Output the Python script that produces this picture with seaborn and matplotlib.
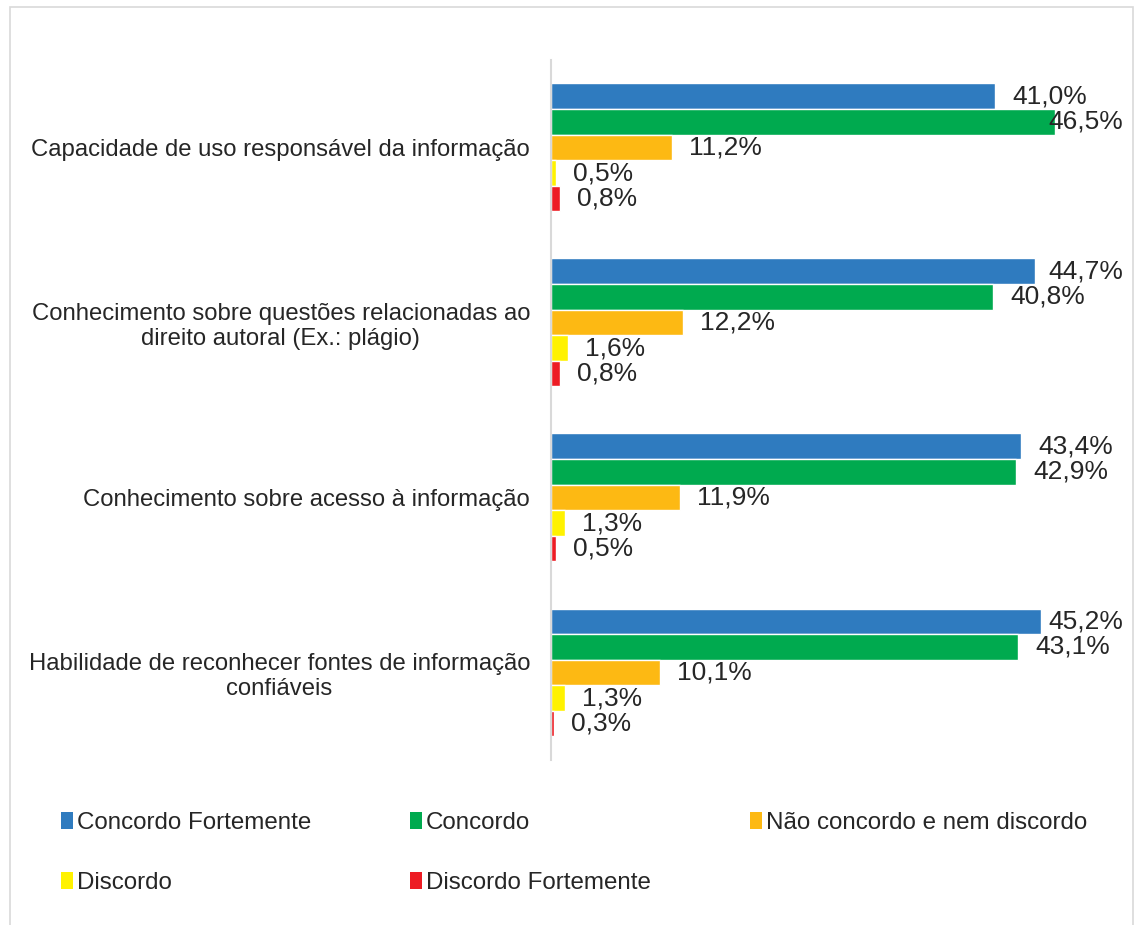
import matplotlib
matplotlib.use("Agg")
import matplotlib.pyplot as plt
import seaborn as sns
import pandas as pd
from matplotlib.patches import Patch, Rectangle

categories = [
    "Capacidade de uso responsável da informação",
    "Conhecimento sobre questões relacionadas ao\ndireito autoral (Ex.: plágio)",
    "Conhecimento sobre acesso à informação",
    "Habilidade de reconhecer fontes de informação\nconfiáveis",
]
series = ["Concordo Fortemente", "Concordo", "Não concordo e nem discordo",
          "Discordo", "Discordo Fortemente"]
concordo_fortemente = [41.0, 44.7, 43.4, 45.2]
concordo = [46.5, 40.8, 42.9, 43.1]
neutro = [11.2, 12.2, 11.9, 10.1]
discordo = [0.5, 1.6, 1.3, 1.3]
discordo_fortemente = [0.8, 0.8, 0.5, 0.3]
colors = ["#2F7BBF", "#00AA4F", "#FDB913", "#FFF200", "#ED1C24"]

values = [concordo_fortemente, concordo, neutro, discordo, discordo_fortemente]
rows = []
for s, vals in zip(series, values):
    for c, v in zip(categories, vals):
        rows.append({"cat": c, "serie": s, "val": v})
df = pd.DataFrame(rows)

sns.set_theme(style="white")
plt.rcParams["font.family"] = ["Liberation Sans", "DejaVu Sans"]

fig = plt.figure(figsize=(11.36, 9.25), dpi=100)
ax = fig.add_axes([0.4850, 0.1784, 0.4771, 0.7568])

sns.barplot(data=df, x="val", y="cat", hue="serie", order=categories,
            hue_order=series, palette=colors, orient="h", width=0.731,
            saturation=1, ax=ax, legend=False, errorbar=None)

ax.set_xlim(0, 50)
ax.set_ylim(3.5, -0.5)
ax.set_xlabel("")
ax.set_ylabel("")
ax.set_xticks([])
for sp in ["top", "right", "bottom"]:
    ax.spines[sp].set_visible(False)
ax.spines["left"].set_color("#D9D9D9")
ax.spines["left"].set_linewidth(1.5)
ax.tick_params(axis="y", length=0, pad=15)
for lab in ax.get_yticklabels():
    lab.set_fontsize(17.2)
    lab.set_color("#262626")
    lab.set_multialignment("center")

for cont in ax.containers:
    for bar in cont:
        w = bar.get_width()
        yc = bar.get_y() + bar.get_height() / 2
        xt = min(w + 1.57, 45.85)
        ax.text(xt, yc, f"{w:.1f}%".replace(".", ","), ha="left", va="center",
                fontsize=19, color="#262626")

handles = [Patch(facecolor=c, edgecolor="none") for c in colors]
order = [0, 3, 1, 4, 2]
fig.legend([handles[i] for i in order], [series[i] for i in order],
           loc="upper left", bbox_to_anchor=(0.0348, 0.146), ncol=3,
           frameon=False, fontsize=17.4, handlelength=0.5, handleheight=0.7,
           handletextpad=0.15, columnspacing=4.1, labelspacing=1.57,
           labelcolor="#262626")

fig.patches.append(Rectangle((10 / 1136, -0.01), 1123 / 1136, 1.0 - 7 / 925 + 0.01,
                             transform=fig.transFigure, fill=False,
                             edgecolor="#D9D9D9", linewidth=1.2))

fig.savefig("out.png", dpi=100)
